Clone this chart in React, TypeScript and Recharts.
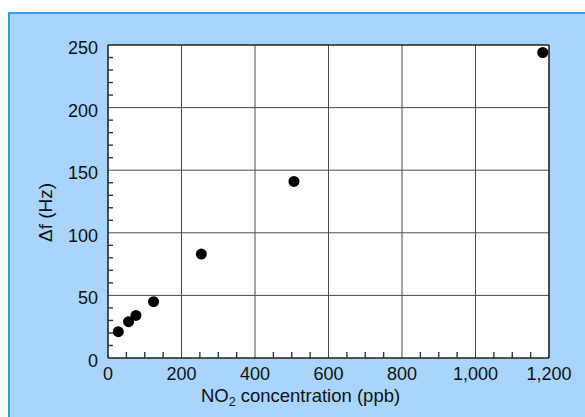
import React from "react";
import {
  ScatterChart,
  Scatter,
  XAxis,
  YAxis,
  ReferenceLine,
  ReferenceArea,
  Label,
} from "recharts";

// NO2 concentration (ppb) vs frequency shift (Hz)
const concentration = [28, 56, 76, 124, 254, 506, 1183];
const freqShift = [21, 29, 34, 45, 83, 141, 244];

const xMajor = [0, 200, 400, 600, 800, 1000, 1200];
const yMajor = [0, 50, 100, 150, 200, 250];
const xTicks = [
  0, 50, 100, 150, 200, 250, 300, 350, 400, 450, 500, 550, 600, 650, 700, 750,
  800, 850, 900, 950, 1000, 1050, 1100, 1150, 1200,
];
const yTicks = [
  0, 10, 20, 30, 40, 50, 60, 70, 80, 90, 100, 110, 120, 130, 140, 150, 160,
  170, 180, 190, 200, 210, 220, 230, 240, 250,
];

const points = concentration.map((x, i) => ({ x, y: freqShift[i] }));

const FONT = "'Liberation Sans', Arial, sans-serif";
const INK = "#111";
const GRID = "#4a4a4a";

const XTick = ({ x, y, payload }: any) => {
  const v = payload.value as number;
  const major = xMajor.includes(v);
  return (
    <g>
      {!major && <line x1={x} y1={y} x2={x} y2={y - 6} stroke="#333" strokeWidth={1.4} />}
      {major && (
        <text x={x} y={y + 22} textAnchor="middle" fill={INK} fontSize={18} fontFamily={FONT}>
          {v.toLocaleString("en-US")}
        </text>
      )}
    </g>
  );
};

const YTick = ({ x, y, payload }: any) => {
  const v = payload.value as number;
  const major = yMajor.includes(v);
  return (
    <g>
      {!major && <line x1={x} y1={y} x2={x + 5} y2={y} stroke="#333" strokeWidth={1.4} />}
      {major && (
        <text x={x - 10} y={y + 9} textAnchor="end" fill={INK} fontSize={18} fontFamily={FONT}>
          {v}
        </text>
      )}
    </g>
  );
};

const XTitle = ({ viewBox }: any) => (
  <text
    x={viewBox.x + viewBox.width / 2 - 28}
    y={viewBox.y + 44}
    textAnchor="middle"
    fill={INK}
    fontSize={18.5}
    fontFamily={FONT}
  >
    NO
    <tspan fontSize={12.5} dy={4}>2</tspan>
    <tspan dy={-4}> concentration (ppb)</tspan>
  </text>
);

const YTitle = ({ viewBox }: any) => {
  const cx = viewBox.x + 37;
  const cy = viewBox.y + viewBox.height / 2 + 11;
  return (
    <text
      x={cx}
      y={cy}
      transform={`rotate(-90 ${cx} ${cy})`}
      textAnchor="middle"
      dominantBaseline="central"
      fill={INK}
      fontSize={19}
      fontFamily={FONT}
    >
      Δf (Hz)
    </text>
  );
};

export default function App() {
  return (
    <div
      style={{
        position: "absolute",
        left: 0,
        top: 0,
        width: 585,
        height: 417,
        background: "#fff",
        overflow: "hidden",
      }}
    >
      <div
        style={{
          position: "absolute",
          left: 8,
          top: 12,
          width: 577,
          height: 405,
          background: "#a9d4fb",
          boxShadow: "inset 2px 2px 0 #2aa5e2",
        }}
      >
        <ScatterChart
          width={577}
          height={405}
          margin={{ top: 33, right: 36, left: 0, bottom: 0 }}
        >
          <XAxis
            type="number"
            dataKey="x"
            domain={[0, 1200]}
            ticks={xTicks}
            interval={0}
            height={59}
            tickSize={0}
            tickMargin={0}
            tickLine={false}
            axisLine={{ stroke: "#222", strokeWidth: 1.6 }}
            tick={<XTick />}
          >
            <Label content={<XTitle />} />
          </XAxis>
          <YAxis
            type="number"
            dataKey="y"
            domain={[0, 250]}
            ticks={yTicks}
            interval={0}
            width={100}
            tickSize={0}
            tickMargin={0}
            tickLine={false}
            axisLine={{ stroke: "#222", strokeWidth: 1.6 }}
            tick={<YTick />}
          >
            <Label content={<YTitle />} />
          </YAxis>
          <ReferenceArea x1={0} x2={1200} y1={0} y2={250} fill="#fff" fillOpacity={1} stroke="none" />
          {xMajor.slice(1, -1).map((v) => (
            <ReferenceLine key={`gx${v}`} x={v} stroke={GRID} strokeWidth={1} />
          ))}
          {yMajor.slice(1, -1).map((v) => (
            <ReferenceLine key={`gy${v}`} y={v} stroke={GRID} strokeWidth={1} />
          ))}
          <ReferenceLine x={1200} stroke="#222" strokeWidth={1.6} />
          <ReferenceLine y={250} stroke="#222" strokeWidth={1.6} />
          <Scatter
            data={points}
            fill="#000"
            isAnimationActive={false}
            shape={(p: any) => <circle cx={p.cx} cy={p.cy} r={5.5} fill="#000" />}
          />
        </ScatterChart>
      </div>
    </div>
  );
}
